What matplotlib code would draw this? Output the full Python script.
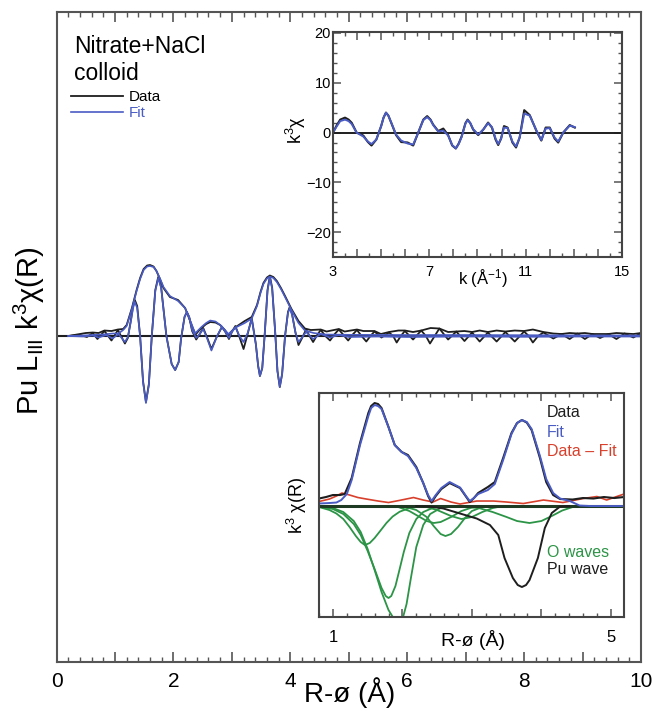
"""Pu LIII EXAFS: FT magnitude/real part with k-space and shell-fit insets."""
import matplotlib
matplotlib.use("Agg")
import matplotlib.pyplot as plt
from matplotlib.ticker import MultipleLocator, FuncFormatter

plt.rcParams["font.family"] = ["Liberation Sans", "DejaVu Sans"]
plt.rcParams["mathtext.fontset"] = "custom"
plt.rcParams["mathtext.rm"] = "Liberation Sans"
plt.rcParams["mathtext.it"] = "Liberation Sans"

BLACK = "#1e1e1e"
BLUE = "#4a5cc4"
RED = "#d8402c"
GREEN = "#2c9446"
SPINE = "#555555"

# ---- main panel: FT of k^3 chi, data and fit (magnitude + real part) ----
r_mag_data = [0.20, 0.35, 0.50, 0.62, 0.72, 0.82, 0.94, 1.05, 1.14, 1.20, 1.29, 1.37, 1.43,
              1.49, 1.55, 1.60, 1.66, 1.71, 1.77, 1.83, 1.94, 2.08, 2.20, 2.28, 2.33, 2.38,
              2.43, 2.48, 2.56, 2.63, 2.72, 2.80, 2.88, 2.94, 3.00, 3.08, 3.22, 3.34, 3.43,
              3.49, 3.54, 3.60, 3.65, 3.71, 3.77, 3.84, 3.91, 4.02, 4.14, 4.25, 4.35, 4.52,
              4.62, 4.83, 4.93, 5.14, 5.25, 5.44, 5.55, 5.69, 5.85, 5.96, 6.10, 6.24, 6.40,
              6.55, 6.70, 6.84, 6.98, 7.11, 7.24, 7.38, 7.53, 7.68, 7.84, 8.00, 8.15, 8.33,
              8.50, 8.64, 8.78, 8.91, 9.04, 9.17, 9.30, 9.44, 9.58, 9.72, 9.87, 10.0]
mag_data = [0.0, 0.15, 0.30, 0.35, 0.30, 0.55, 0.50, 0.65, 0.70, 1.1, 2.8, 4.6, 5.8,
            6.7, 7.05, 7.1, 6.95, 6.5, 5.7, 4.8, 3.9, 3.6, 2.8, 1.6, 0.8, 0.15,
            0.5, 0.8, 1.2, 1.4, 1.35, 1.1, 0.6, 0.1, 0.5, 0.95, 1.5, 1.9, 3.1,
            4.4, 5.3, 5.85, 6.05, 5.9, 5.5, 4.8, 4.0, 2.7, 1.5, 0.75, 0.6, 0.65,
            0.45, 0.7, 0.45, 0.65, 0.5, 0.5, 0.2, 0.4, 0.55, 0.55, 0.4, 0.55, 0.8,
            0.75, 0.4, 0.45, 0.5, 0.4, 0.55, 0.4, 0.55, 0.45, 0.55, 0.5, 0.65, 0.4,
            0.25, 0.2, 0.3, 0.25, 0.3, 0.2, 0.2, 0.2, 0.3, 0.25, 0.2, 0.3]

r_re_data = [0.20, 0.40, 0.52, 0.62, 0.70, 0.82, 0.94, 1.05, 1.17, 1.22, 1.27, 1.31, 1.34,
             1.38, 1.43, 1.48, 1.53, 1.58, 1.63, 1.69, 1.74, 1.79, 1.88, 1.97, 2.03, 2.09,
             2.13, 2.19, 2.23, 2.27, 2.32, 2.39, 2.45, 2.51, 2.58, 2.65, 2.74, 2.83, 2.89,
             2.95, 3.00, 3.06, 3.13, 3.20, 3.27, 3.34, 3.41, 3.45, 3.48, 3.52, 3.56, 3.61,
             3.65, 3.69, 3.74, 3.78, 3.82, 3.86, 3.91, 3.96, 3.99, 4.03, 4.09, 4.14, 4.21,
             4.27, 4.33, 4.39, 4.46, 4.52, 4.60, 4.68, 4.76, 4.83, 4.91, 4.99, 5.06, 5.14,
             5.22, 5.30, 5.37, 5.44, 5.56, 5.69, 5.76, 5.82, 5.89, 5.96, 6.10, 6.24, 6.32,
             6.39, 6.47, 6.55, 6.70, 6.84, 6.98, 7.11, 7.24, 7.38, 7.53, 7.68, 7.84, 8.00,
             8.08, 8.15, 8.24, 8.33, 8.50, 8.64, 8.78, 8.91, 9.04, 9.17, 9.30, 9.44, 9.58,
             9.72, 9.87, 10.0]
re_data = [0.0, 0.10, -0.10, 0.30, -0.30, 0.50, -0.45, 0.60, -0.75, -0.2, 1.5, 3.0, 3.6,
           3.0, 0.0, -4.5, -6.6, -4.8, 0.0, 4.6, 5.9, 4.9, 0.0, -2.8, -3.4, -2.6,
           -0.3, 1.9, 2.4, 1.9, 0.5, -0.35, 0.2, 0.8, -0.2, -1.3, -0.1, 0.9, 0.4,
           -0.3, 0.4, 1.0, -0.1, -1.3, 0.2, 1.8, -0.8, -3.0, -4.0, -3.2, 0.0, 4.6,
           6.0, 4.8, 0.5, -3.5, -5.1, -3.8, 0.0, 2.4, 2.9, 2.2, 0.3, -0.9, -0.1,
           0.65, 0.0, -0.6, 0.1, 0.6, 0.0, -0.45, 0.2, 0.65, 0.1, -0.45, 0.1, 0.6,
           0.0, -0.55, 0.0, 0.45, -0.15, 0.35, 0.0, -0.65, 0.0, 0.5, -0.35, 0.55, 0.0,
           -0.75, 0.0, 0.75, -0.35, 0.45, -0.5, 0.35, -0.55, 0.35, -0.55, 0.4, -0.55, 0.45,
           0.0, -0.65, 0.0, 0.35, -0.25, 0.2, -0.3, 0.25, -0.3, 0.2, -0.2, 0.2, -0.3,
           0.25, -0.15, 0.3]

r_mag_fit = [0.20, 0.45, 0.62, 0.80, 0.96, 1.06, 1.14, 1.20, 1.29, 1.37, 1.43, 1.49, 1.55,
             1.60, 1.66, 1.71, 1.77, 1.83, 1.94, 2.08, 2.20, 2.28, 2.33, 2.37, 2.42, 2.48,
             2.56, 2.63, 2.72, 2.80, 2.88, 2.94, 3.00, 3.08, 3.22, 3.34, 3.43, 3.49, 3.54,
             3.60, 3.65, 3.71, 3.77, 3.84, 3.91, 4.02, 4.14, 4.25, 4.40, 4.60, 5.0, 6.0,
             7.0, 8.0, 9.0, 10.0]
mag_fit = [0.0, 0.05, 0.10, 0.15, 0.25, 0.25, 0.6, 1.0, 2.7, 4.5, 5.7, 6.6, 6.95,
           7.0, 6.9, 6.5, 5.75, 4.9, 4.0, 3.5, 2.8, 1.65, 0.9, 0.25, 0.55, 0.9,
           1.3, 1.55, 1.45, 1.1, 0.6, 0.2, 0.5, 0.9, 1.3, 1.75, 3.0, 4.3, 5.2,
           5.75, 5.95, 5.8, 5.4, 4.7, 3.9, 2.6, 1.3, 0.55, 0.3, 0.15, 0.12, 0.1,
           0.1, 0.08, 0.06, 0.05]

r_re_fit = [0.20, 0.45, 0.62, 0.72, 0.85, 0.96, 1.06, 1.17, 1.22, 1.27, 1.31, 1.34, 1.38,
            1.43, 1.48, 1.53, 1.58, 1.63, 1.69, 1.74, 1.79, 1.88, 1.97, 2.03, 2.09, 2.13,
            2.19, 2.23, 2.27, 2.32, 2.39, 2.45, 2.51, 2.58, 2.65, 2.74, 2.83, 2.89, 2.95,
            3.00, 3.06, 3.13, 3.20, 3.27, 3.34, 3.41, 3.45, 3.48, 3.52, 3.56, 3.61, 3.65,
            3.69, 3.74, 3.78, 3.82, 3.86, 3.91, 3.96, 3.99, 4.03, 4.09, 4.14, 4.27, 4.39,
            4.52, 4.68, 4.83, 5.0, 5.5, 6.0, 7.0, 8.0, 9.0, 10.0]
re_fit = [0.0, -0.05, 0.05, -0.15, 0.10, -0.25, 0.20, -0.6, -0.1, 1.4, 2.8, 3.4, 2.8,
          0.0, -4.6, -6.7, -4.9, 0.0, 4.5, 5.8, 4.8, 0.0, -2.8, -3.4, -2.6, -0.3,
          1.9, 2.4, 1.9, 0.6, -0.2, 0.2, 0.7, -0.3, -1.45, -0.1, 0.95, 0.4, -0.2,
          0.4, 0.9, 0.0, -0.6, 0.3, 1.7, -0.8, -3.0, -4.0, -3.2, 0.0, 4.5, 5.9,
          4.7, 0.5, -3.5, -5.1, -3.8, 0.0, 2.3, 2.8, 2.1, 0.3, -0.6, 0.4, -0.3,
          0.2, -0.15, 0.1, -0.1, -0.05, -0.1, -0.05, -0.08, -0.05, -0.05]

# ---- upper inset: k^3 chi(k) ----
k_data = [3.0, 3.15, 3.3, 3.5, 3.65, 3.78, 3.98, 4.26, 4.45, 4.6, 4.8, 5.0, 5.1, 5.2, 5.3,
          5.42, 5.62, 5.83, 6.1, 6.33, 6.54, 6.75, 6.91, 7.05, 7.16, 7.37, 7.58, 7.78,
          7.95, 8.1, 8.22, 8.34, 8.5, 8.59, 8.7, 8.82, 9.03, 9.24, 9.44, 9.6, 9.75, 9.86,
          9.98, 10.1, 10.25, 10.45, 10.6, 10.75, 10.94, 11.17, 11.45, 11.65, 11.83, 12.0,
          12.2, 12.35, 12.56, 12.83, 13.04]
chi_data = [0.0, 1.4, 2.6, 3.0, 2.6, 1.95, 0.0, -0.6, -1.9, -2.6, -1.4, 1.3, 3.0, 4.0, 3.4,
            1.95, -0.5, -1.9, -2.0, -2.6, 0.0, 2.6, 3.3, 2.6, 1.6, 0.3, 0.8, -0.5,
            -2.6, -3.2, -2.2, -0.8, 1.9, 2.6, 1.9, 0.6, -0.5, 0.6, 2.0, 1.0, -1.4, -2.5,
            -1.2, 1.3, 1.0, -2.0, -3.0, -1.0, 4.5, 3.5, 0.3, -1.6, 1.0, 1.0,
            -1.2, -2.0, 0.0, 1.5, 1.0]
k_fit = [3.0, 3.15, 3.3, 3.5, 3.65, 3.78, 3.98, 4.26, 4.45, 4.6, 4.8, 5.0, 5.1, 5.2, 5.3,
         5.42, 5.62, 5.83, 6.1, 6.33, 6.54, 6.75, 6.91, 7.05, 7.16, 7.37, 7.58, 7.78,
         7.95, 8.1, 8.22, 8.34, 8.5, 8.59, 8.7, 8.82, 9.03, 9.24, 9.44, 9.6, 9.75, 9.86,
         9.98, 10.1, 10.25, 10.45, 10.6, 10.75, 10.94, 11.17, 11.45, 11.65, 11.83, 12.0,
         12.2, 12.35, 12.56, 12.83, 13.04]
chi_fit = [0.0, 1.2, 2.3, 2.6, 2.3, 1.7, 0.0, -0.8, -1.8, -2.3, -1.4, 1.3, 3.0, 4.0, 3.4,
           2.0, -0.4, -1.6, -2.2, -2.4, 0.0, 2.5, 3.1, 2.5, 1.5, 0.2, 0.4, -0.6,
           -2.5, -3.2, -2.3, -0.9, 1.8, 2.5, 1.9, 0.7, -0.4, 0.6, 1.9, 1.1, -1.2, -2.3,
           -1.2, 1.0, 0.9, -1.8, -2.8, -1.0, 3.8, 3.4, 0.4, -1.5, 0.8, 0.9,
           -1.0, -1.8, 0.0, 1.4, 1.1]

# ---- lower inset: FT magnitudes, residual and single-scattering waves ----
r2_data = [0.80, 0.90, 1.00, 1.10, 1.17, 1.27, 1.39, 1.51, 1.55, 1.60, 1.65, 1.70, 1.80,
           1.89, 1.99, 2.08, 2.20, 2.30, 2.37, 2.42, 2.48, 2.56, 2.68, 2.83, 2.92, 2.97,
           3.03, 3.09, 3.23, 3.33, 3.45, 3.57, 3.65, 3.72, 3.79, 3.86, 3.98, 4.07, 4.17,
           4.27, 4.45, 4.60, 4.75, 4.90, 5.05, 5.19]
mag2_data = [0.75, 0.9, 1.1, 1.1, 1.2, 2.8, 6.3, 9.3, 10.0, 10.3, 10.2, 9.8, 7.9,
             6.1, 5.4, 5.1, 3.9, 2.3, 1.0, 0.35, 1.0, 1.7, 2.3, 1.8, 0.9, 0.4,
             0.8, 1.3, 1.9, 2.4, 4.8, 7.3, 8.3, 8.6, 8.35, 7.6, 4.8, 2.4, 1.1,
             0.7, 0.65, 0.8, 0.75, 0.9, 0.8, 0.9]
r2_fit = [0.80, 0.95, 1.05, 1.12, 1.20, 1.27, 1.39, 1.51, 1.55, 1.60, 1.65, 1.70, 1.80,
          1.89, 1.99, 2.08, 2.20, 2.30, 2.37, 2.42, 2.48, 2.56, 2.68, 2.83, 2.92, 2.97,
          3.03, 3.09, 3.23, 3.33, 3.45, 3.57, 3.65, 3.72, 3.79, 3.86, 3.98, 4.07, 4.17,
          4.27, 4.41, 4.55, 4.70, 5.19]
mag2_fit = [0.25, 0.3, 0.35, 0.6, 1.2, 2.6, 6.1, 9.0, 9.8, 10.1, 10.0, 9.7, 7.9,
            6.1, 5.4, 5.0, 3.8, 2.3, 1.1, 0.5, 1.1, 1.8, 2.4, 1.85, 0.95, 0.5,
            0.8, 1.2, 1.6, 2.2, 4.6, 7.2, 8.3, 8.6, 8.4, 7.7, 5.0, 2.7, 1.3,
            0.75, 0.5, 0.05, 0.0, 0.0]
r2_resid = [0.80, 0.95, 1.05, 1.13, 1.24, 1.36, 1.48, 1.65, 1.80, 1.95, 2.16, 2.30, 2.44,
            2.55, 2.70, 2.83, 3.07, 3.31, 3.50, 3.74, 4.03, 4.31, 4.60, 4.80, 4.94, 5.19]
resid = [0.45, 0.7, 1.0, 1.3, 1.1, 0.85, 0.7, 0.5, 0.35, 0.55, 0.85, 0.6, 0.4,
         0.75, 0.4, 0.2, 0.5, 0.5, 0.4, 0.25, 0.6, 0.35, 0.75, 0.95, 0.6, 1.2]

r_pu = [2.20, 2.40, 2.59, 2.83, 3.07, 3.26, 3.38, 3.47, 3.59, 3.66, 3.72, 3.78, 3.83, 3.95,
        4.05, 4.15, 4.27, 4.40]
pu_wave = [0.0, -0.05, -0.25, -0.75, -1.25, -1.9, -2.9, -5.2, -7.2, -7.9, -8.1, -7.9, -7.4,
           -5.2, -2.2, -0.7, -0.05, 0.0]

r_oa = [0.80, 0.95, 1.05, 1.15, 1.24, 1.33, 1.40, 1.46, 1.53, 1.60, 1.68, 1.77, 1.86, 1.96,
        2.10, 2.30]
o_a = [-0.1, -0.4, -0.75, -1.3, -2.1, -3.0, -3.6, -3.9, -3.7, -3.2, -2.5, -1.7, -1.05, -0.57,
       -0.2, 0.0]
r_ob = [0.80, 1.00, 1.15, 1.30, 1.40, 1.50, 1.60, 1.70, 1.76, 1.80, 1.84, 1.90, 1.95, 2.02,
        2.10, 2.20, 2.30, 2.45, 2.60]
o_b = [-0.05, -0.3, -0.8, -1.8, -2.9, -4.5, -6.3, -8.2, -9.0, -9.2, -9.0, -8.0, -6.6, -4.6,
       -2.7, -1.3, -0.6, -0.15, 0.0]
r_oc = [0.85, 1.00, 1.15, 1.30, 1.40, 1.50, 1.60, 1.70, 1.80, 1.88, 1.93, 1.97, 2.01, 2.06,
        2.12, 2.20, 2.30, 2.40, 2.55, 2.70]
o_c = [-0.05, -0.2, -0.6, -1.5, -2.6, -4.3, -6.4, -8.6, -10.4, -11.3, -11.5, -11.5, -11.1,
       -9.8, -7.3, -4.1, -1.9, -0.8, -0.2, 0.0]
r_od = [2.00, 2.20, 2.35, 2.45, 2.55, 2.62, 2.70, 2.80, 2.90, 3.00, 3.15, 3.30]
o_d = [0.0, -0.4, -1.1, -2.0, -2.8, -3.0, -2.8, -2.1, -1.2, -0.5, -0.1, 0.0]
r_oe = [1.90, 2.10, 2.25, 2.35, 2.45, 2.55, 2.70, 2.85, 3.00, 3.15]
o_e = [0.0, -0.5, -1.1, -1.5, -1.7, -1.6, -1.1, -0.5, -0.15, 0.0]
r_og = [2.30, 2.50, 2.70, 2.85, 3.00, 3.15, 3.30, 3.45]
o_g = [0.0, -0.4, -1.0, -1.3, -1.1, -0.6, -0.2, 0.0]
r_of = [2.80, 3.10, 3.30, 3.50, 3.65, 3.83, 4.00, 4.15, 4.30, 4.45, 4.60]
o_f = [0.0, -0.2, -0.6, -1.1, -1.5, -1.7, -1.5, -1.0, -0.45, -0.1, 0.0]

fig = plt.figure(figsize=(6.52, 7.11), dpi=100)

# main panel
ax = fig.add_axes([0.0867, 0.0689, 0.8964, 0.9142])
ax.axhline(0, color=BLACK, lw=1.5, zorder=1)
l_data, = ax.plot(r_mag_data, mag_data, color=BLACK, lw=1.3, label="Data")
ax.plot(r_re_data, re_data, color=BLACK, lw=1.3)
l_fit, = ax.plot(r_mag_fit, mag_fit, color=BLUE, lw=1.2, label="Fit")
ax.plot(r_re_fit, re_fit, color=BLUE, lw=1.2)
ax.set_xlim(0, 10)
ax.set_ylim(-32.6, 32.4)
ax.xaxis.set_major_locator(MultipleLocator(1))
ax.xaxis.set_minor_locator(MultipleLocator(0.2))
ax.xaxis.set_major_formatter(FuncFormatter(lambda v, p: f"{v:.0f}" if round(v) % 2 == 0 else ""))
ax.tick_params(axis="x", which="both", direction="in", top=True, bottom=True,
               labelsize=15, pad=7, color=SPINE)
ax.tick_params(axis="x", which="major", length=7, width=1.2)
ax.tick_params(axis="x", which="minor", length=3.5, width=1.0)
ax.tick_params(axis="y", left=False, right=False, labelleft=False)
for s in ax.spines.values():
    s.set_color(SPINE)
    s.set_linewidth(1.5)
ax.set_xlabel("R-ø (Å)", fontsize=20)
ax.xaxis.label.set_va("baseline")
ax.xaxis.set_label_coords(0.502, -0.062)
ax.set_ylabel(r"Pu L$_{\mathrm{III}}$ k$^{3}$χ(R)", fontsize=21)
ax.yaxis.label.set_va("center")
ax.yaxis.set_label_coords(-0.047, 0.51)

ax.text(0.030, 0.9365, "Nitrate+NaCl", transform=ax.transAxes, fontsize=16.5,
        va="baseline", ha="left")
ax.text(0.030, 0.8954, "colloid", transform=ax.transAxes, fontsize=16.5,
        va="baseline", ha="left")
leg = ax.legend(handles=[l_data, l_fit], loc="upper left", bbox_to_anchor=(0.0248, 0.8794),
                frameon=False, fontsize=11, handlelength=3.4, handletextpad=0.35,
                labelspacing=0.12, borderpad=0, borderaxespad=0)
leg.get_texts()[1].set_color(BLUE)

# upper inset
ax1 = fig.add_axes([0.5107, 0.6385, 0.4433, 0.3165])
ax1.axhline(0, color=BLACK, lw=1.4)
ax1.plot(k_data, chi_data, color=BLACK, lw=1.5)
ax1.plot(k_fit, chi_fit, color=BLUE, lw=1.4)
ax1.set_xlim(3, 15)
ax1.set_ylim(-25, 20.2)
ax1.xaxis.set_major_locator(MultipleLocator(1))
ax1.xaxis.set_minor_locator(MultipleLocator(0.5))
ax1.xaxis.set_major_formatter(FuncFormatter(lambda v, p: f"{v:.0f}" if round(v - 3) % 4 == 0 else ""))
ax1.yaxis.set_major_locator(MultipleLocator(10))
ax1.yaxis.set_minor_locator(MultipleLocator(2))
ax1.tick_params(which="both", direction="in", top=True, right=True, labelsize=10.5,
                color=SPINE)
ax1.tick_params(axis="x", pad=6)
ax1.tick_params(axis="y", pad=1.5)
ax1.tick_params(which="major", length=6, width=1.1)
ax1.tick_params(which="minor", length=3, width=1.0)
for s in ax1.spines.values():
    s.set_color("#444444")
    s.set_linewidth(1.5)
ax1.set_xlabel("k (Å$^{-1}$)", fontsize=12)
ax1.xaxis.label.set_va("center")
ax1.xaxis.set_label_coords(0.519, -0.098)
ax1.set_ylabel("k$^{3}$χ", fontsize=13)
ax1.yaxis.label.set_va("center")
ax1.yaxis.set_label_coords(-0.128, 0.564)

# lower inset
ax2 = fig.add_axes([0.4893, 0.1322, 0.4678, 0.3150])
for r, w in [(r_oa, o_a), (r_ob, o_b), (r_oc, o_c), (r_od, o_d), (r_oe, o_e),
             (r_og, o_g), (r_of, o_f)]:
    ax2.plot(r, w, color=GREEN, lw=1.3)
ax2.axhline(0, color="#1f3a22", lw=2.2)
ax2.plot(r_pu, pu_wave, color=BLACK, lw=1.4)
ax2.plot(r2_resid, resid, color=RED, lw=1.2)
ax2.plot(r2_data, mag2_data, color=BLACK, lw=1.5)
ax2.plot(r2_fit, mag2_fit, color=BLUE, lw=1.4)
ax2.set_xlim(0.8, 5.19)
ax2.set_ylim(-11.1, 11.3)
ax2.xaxis.set_major_locator(MultipleLocator(1))
ax2.xaxis.set_minor_locator(MultipleLocator(0.2))
ax2.xaxis.set_major_formatter(FuncFormatter(lambda v, p: f"{v:.0f}" if round(v) in (1, 5) else ""))
ax2.tick_params(axis="x", which="both", direction="in", top=True, bottom=True,
                labelsize=12, pad=9, color=SPINE)
ax2.tick_params(axis="x", which="major", length=6, width=1.1)
ax2.tick_params(axis="x", which="minor", length=3, width=1.0)
ax2.tick_params(axis="y", left=False, right=False, labelleft=False)
for s in ax2.spines.values():
    s.set_color("#444444")
    s.set_linewidth(1.5)
ax2.set_xlabel("R-ø (Å)", fontsize=14)
ax2.xaxis.label.set_va("baseline")
ax2.xaxis.set_label_coords(0.505, -0.13)
ax2.set_ylabel("k$^{3}$ χ(R)", fontsize=13)
ax2.yaxis.label.set_va("center")
ax2.yaxis.set_label_coords(-0.072, 0.5)

for txt, col, y in [("Data", BLACK, 0.894), ("Fit", BLUE, 0.805), ("Data – Fit", RED, 0.719),
                    ("O waves", GREEN, 0.269), ("Pu wave", BLACK, 0.192)]:
    ax2.text(0.7475, y, txt, color=col, fontsize=11.5, transform=ax2.transAxes,
             va="baseline", ha="left")

fig.savefig("out.png", dpi=100)
plt.close(fig)
